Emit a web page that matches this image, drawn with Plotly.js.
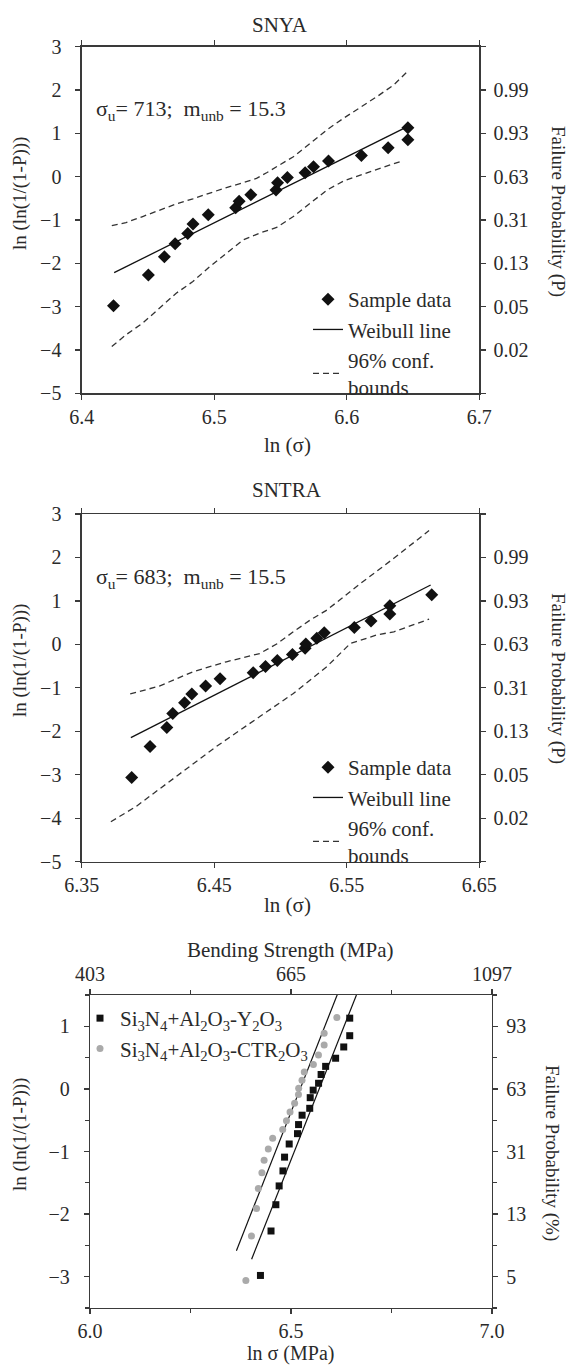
<!DOCTYPE html>
<html>
<head>
<meta charset="utf-8">
<script src="https://cdn.plot.ly/plotly-3.0.1.min.js"></script>
<style>html,body{margin:0;padding:0;background:#fff;}#chart{width:570px;height:1367px;}</style>
</head>
<body>
<div id="chart"></div>
<script>
// ---------- DATA ----------
// SNYA sample data (ln sigma, ln(ln(1/(1-P))))
const snyaX = [6.424, 6.4503, 6.4624, 6.4705, 6.480, 6.484, 6.4955, 6.5162, 6.5188, 6.5276, 6.5466, 6.5478, 6.5552, 6.5686, 6.5749, 6.5862, 6.611, 6.6312, 6.6461, 6.6461];
const snyaY = [-2.98, -2.27, -1.85, -1.55, -1.31, -1.09, -0.88, -0.715, -0.57, -0.42, -0.31, -0.14, -0.02, 0.09, 0.23, 0.36, 0.49, 0.67, 0.85, 1.13];
const snyaLineX = [6.4245, 6.6431];
const snyaLineY = [-2.215, 1.115];
const snyaUpX = [6.4227, 6.4334, 6.446, 6.4586, 6.4713, 6.4839, 6.4965, 6.5092, 6.5218, 6.5319, 6.5395, 6.5471, 6.5597, 6.5724, 6.585, 6.5976, 6.6103, 6.6229, 6.6355, 6.6456];
const snyaUpY = [-1.13, -1.06, -0.92, -0.77, -0.63, -0.51, -0.38, -0.25, -0.14, -0.04, 0.09, 0.23, 0.46, 0.77, 1.08, 1.35, 1.60, 1.85, 2.12, 2.42];
const snyaLoX = [6.4227, 6.4334, 6.446, 6.4586, 6.4713, 6.4839, 6.4965, 6.5092, 6.5218, 6.5345, 6.5471, 6.5597, 6.5724, 6.585, 6.5976, 6.6103, 6.6229, 6.6406];
const snyaLoY = [-3.92, -3.65, -3.38, -3.04, -2.69, -2.42, -2.08, -1.77, -1.46, -1.30, -1.17, -0.92, -0.62, -0.31, -0.10, 0.04, 0.17, 0.35];

// SNTRA sample data
const sntraX = [6.3877, 6.4016, 6.4142, 6.4187, 6.4276, 6.4331, 6.4435, 6.4544, 6.4794, 6.4887, 6.4976, 6.509, 6.5186, 6.5191, 6.5274, 6.533, 6.5557, 6.5683, 6.5825, 6.5825, 6.6141];
const sntraY = [-3.06, -2.35, -1.91, -1.59, -1.34, -1.14, -0.96, -0.79, -0.65, -0.51, -0.37, -0.23, -0.09, 0.01, 0.14, 0.27, 0.39, 0.54, 0.70, 0.89, 1.14];
const sntraLineX = [6.3871, 6.6133];
const sntraLineY = [-2.146, 1.367];
const sntraUpX = [6.3866, 6.4086, 6.4339, 6.4592, 6.4844, 6.4971, 6.5097, 6.5224, 6.535, 6.5603, 6.5855, 6.6121];
const sntraUpY = [-1.14, -0.96, -0.63, -0.40, -0.21, 0.01, 0.29, 0.56, 0.79, 1.40, 1.98, 2.62];
const sntraLoX = [6.372, 6.391, 6.4213, 6.4516, 6.4844, 6.5097, 6.535, 6.5527, 6.5729, 6.5855, 6.6121];
const sntraLoY = [-4.08, -3.73, -3.04, -2.35, -1.66, -1.13, -0.51, 0.02, 0.22, 0.29, 0.58];

// Comparison panel fit lines
const fitYX = [6.402, 6.6628];   // Si3N4+Al2O3-Y2O3
const fitYY = [-2.72, 1.5];
const fitCX = [6.3642, 6.616];   // Si3N4+Al2O3-CTR2O3
const fitCY = [-2.585, 1.52];

// Tick labels
const lnVals12 = [3, 2, 1, 0, -1, -2, -3, -4, -5];
const probVals12 = [2, 1, 0, -1, -2, -3, -4];
const probTicks12 = ['0.99', '0.93', '0.63', '0.31', '0.13', '0.05', '0.02'];
const lnVals3 = [1, 0, -1, -2, -3];
const probTicks3 = ['93', '63', '31', '13', '5'];
const xVals3 = [6.0, 6.5, 7.0];
const xTicks3 = ['6.0', '6.5', '7.0'];
const mpaTicks3 = ['403', '665', '1097'];

// ---------- LAYOUT HELPERS ----------
const W = 570, H = 1367;
const FONT = 'Liberation Serif';
const TXT = '#2a2a2a';
const AX = '#3a3a3a';
const px = v => v / W;
const py = v => 1 - v / H;

function axisBase(extra) {
  return Object.assign({
    showline: true, linecolor: AX, linewidth: 1.3,
    ticks: 'outside', ticklen: 5, tickwidth: 1.2, tickcolor: AX,
    showgrid: false, zeroline: false, fixedrange: true,
    tickfont: {family: FONT, size: 20, color: TXT}
  }, extra);
}
const minorY12 = {tickvals: [3, -5], ticks: 'outside', ticklen: 5, tickwidth: 1.2, tickcolor: AX, showgrid: false};
const minorY3 = {dtick: 0.5, tick0: 0, ticks: 'outside', ticklen: 4, tickwidth: 1.1, tickcolor: AX, showgrid: false};
const minorX3 = {dtick: 0.25, tick0: 6, ticks: 'outside', ticklen: 4, tickwidth: 1.1, tickcolor: AX, showgrid: false};

const dom1x = [px(81.7), px(479.3)];
const dom3x = [px(90), px(492)];
const dom1y = [py(393.3), py(46.7)];
const dom2y = [py(861.7), py(514)];
const dom3y = [py(1308), py(995)];

const lineStyle = {color: '#111', width: 1.3};
const dashStyle = {color: '#333', width: 1.3, dash: '6px,4px'};

const traces = [
  // Panel 1
  {x: snyaX, y: snyaY, mode: 'markers', name: 'Sample data', xaxis: 'x', yaxis: 'y', legend: 'legend',
   marker: {symbol: 'diamond', size: 10, color: '#111'}},
  {x: snyaLineX, y: snyaLineY, mode: 'lines', name: 'Weibull line', xaxis: 'x', yaxis: 'y', legend: 'legend', line: lineStyle},
  {x: snyaUpX, y: snyaUpY, mode: 'lines', name: '96% conf.<br>bounds', xaxis: 'x', yaxis: 'y', legend: 'legend', legendgroup: 'b1', line: dashStyle},
  {x: snyaLoX, y: snyaLoY, mode: 'lines', name: 'lower', xaxis: 'x', yaxis: 'y', legendgroup: 'b1', showlegend: false, line: dashStyle},
  {x: [], y: [], xaxis: 'x2', yaxis: 'y2', showlegend: false, mode: 'markers'},
  // Panel 2
  {x: sntraX, y: sntraY, mode: 'markers', name: 'Sample data', xaxis: 'x3', yaxis: 'y3', legend: 'legend2',
   marker: {symbol: 'diamond', size: 10, color: '#111'}},
  {x: sntraLineX, y: sntraLineY, mode: 'lines', name: 'Weibull line', xaxis: 'x3', yaxis: 'y3', legend: 'legend2', line: lineStyle},
  {x: sntraUpX, y: sntraUpY, mode: 'lines', name: '96% conf.<br>bounds', xaxis: 'x3', yaxis: 'y3', legend: 'legend2', legendgroup: 'b2', line: dashStyle},
  {x: sntraLoX, y: sntraLoY, mode: 'lines', name: 'lower', xaxis: 'x3', yaxis: 'y3', legendgroup: 'b2', showlegend: false, line: dashStyle},
  {x: [], y: [], xaxis: 'x4', yaxis: 'y4', showlegend: false, mode: 'markers'},
  // Panel 3
  {x: fitYX, y: fitYY, mode: 'lines', xaxis: 'x5', yaxis: 'y5', showlegend: false, line: {color: '#111', width: 1.2}},
  {x: fitCX, y: fitCY, mode: 'lines', xaxis: 'x5', yaxis: 'y5', showlegend: false, line: {color: '#111', width: 1.2}},
  {x: snyaX, y: snyaY, mode: 'markers', name: 'Si<sub>3</sub>N<sub>4</sub>+Al<sub>2</sub>O<sub>3</sub>-Y<sub>2</sub>O<sub>3</sub>',
   xaxis: 'x5', yaxis: 'y5', legend: 'legend3', marker: {symbol: 'square', size: 7, color: '#111'}},
  {x: sntraX, y: sntraY, mode: 'markers', name: 'Si<sub>3</sub>N<sub>4</sub>+Al<sub>2</sub>O<sub>3</sub>-CTR<sub>2</sub>O<sub>3</sub>',
   xaxis: 'x5', yaxis: 'y5', legend: 'legend3', marker: {symbol: 'circle', size: 7, color: '#aaaaaa'}},
  {x: [], y: [], xaxis: 'x6', yaxis: 'y6', showlegend: false, mode: 'markers'}
];

const legendBase = {
  bgcolor: 'rgba(0,0,0,0)', borderwidth: 0, xanchor: 'left', yanchor: 'top',
  font: {family: FONT, size: 21, color: TXT}, itemwidth: 30, tracegroupgap: 0
};

function ann(text, x, y, size, angle, extra) {
  return Object.assign({text: text, xref: 'paper', yref: 'paper', x: px(x), y: py(y),
    xanchor: 'center', yanchor: 'middle', showarrow: false, textangle: angle || 0,
    font: {family: FONT, size: size, color: TXT}}, extra || {});
}

const layout = {
  width: W, height: H, margin: {l: 0, r: 0, t: 0, b: 0},
  paper_bgcolor: '#fff', plot_bgcolor: 'rgba(0,0,0,0)',
  font: {family: FONT, size: 20, color: TXT},
  hovermode: false,
  // Panel 1
  xaxis: axisBase({domain: dom1x, range: [6.4, 6.7], anchor: 'y', tickvals: [6.4, 6.5, 6.6, 6.7], ticktext: ['6.4', '6.5', '6.6', '6.7']}),
  xaxis2: axisBase({overlaying: 'x', side: 'top', anchor: 'y', range: [6.4, 6.7], tickvals: [6.4, 6.5, 6.6, 6.7], showticklabels: false}),
  yaxis: axisBase({domain: dom1y, range: [-5, 3], anchor: 'x', tickvals: lnVals12, ticklabelstandoff: 10}),
  yaxis2: axisBase({overlaying: 'y', side: 'right', anchor: 'x', range: [-5, 3], tickvals: probVals12, ticktext: probTicks12, ticklabelstandoff: 4, minor: minorY12}),
  // Panel 2
  xaxis3: axisBase({domain: dom1x, range: [6.35, 6.65], anchor: 'y3', tickvals: [6.35, 6.45, 6.55, 6.65], ticktext: ['6.35', '6.45', '6.55', '6.65']}),
  xaxis4: axisBase({overlaying: 'x3', side: 'top', anchor: 'y3', range: [6.35, 6.65], tickvals: [6.35, 6.45, 6.55, 6.65], showticklabels: false}),
  yaxis3: axisBase({domain: dom2y, range: [-5, 3], anchor: 'x3', tickvals: lnVals12, ticklabelstandoff: 10}),
  yaxis4: axisBase({overlaying: 'y3', side: 'right', anchor: 'x3', range: [-5, 3], tickvals: probVals12, ticktext: probTicks12, ticklabelstandoff: 4, minor: minorY12}),
  // Panel 3
  xaxis5: axisBase({domain: dom3x, range: [6.0, 7.0], anchor: 'y5', tickvals: xVals3, ticktext: xTicks3, minor: minorX3}),
  xaxis6: axisBase({overlaying: 'x5', side: 'top', anchor: 'y5', range: [6.0, 7.0], tickvals: xVals3, ticktext: mpaTicks3, minor: minorX3}),
  yaxis5: axisBase({domain: dom3y, range: [-3.5, 1.5], anchor: 'x5', tickvals: lnVals3, ticklabelstandoff: 10, minor: minorY3}),
  yaxis6: axisBase({overlaying: 'y5', side: 'right', anchor: 'x5', range: [-3.5, 1.5], tickvals: lnVals3, ticktext: probTicks3, ticklabelstandoff: 4, minor: minorY3}),
  legend: Object.assign({}, legendBase, {x: px(308), y: py(279)}),
  legend2: Object.assign({}, legendBase, {x: px(308), y: py(747)}),
  legend3: Object.assign({}, legendBase, {x: px(80), y: py(998), font: {family: FONT, size: 21, color: TXT}}),
  annotations: [
    ann('SNYA', 280, 25, 21),
    ann('ln (ln(1/(1-P)))', 20, 194, 19, -90),
    ann('Failure Probability (P)', 558, 211, 19, 90),
    ann('ln (σ)', 287, 445, 21),
    ann('σ<sub>u</sub>= 713;\u00A0 m<sub>unb</sub> = 15.3', 94, 110, 22, 0, {xanchor: 'left'}),
    ann('SNTRA', 287, 490, 21),
    ann('ln (ln(1/(1-P)))', 20, 661, 19, -90),
    ann('Failure Probability (P)', 558, 678, 19, 90),
    ann('ln (σ)', 287, 905, 21),
    ann('σ<sub>u</sub>= 683;\u00A0 m<sub>unb</sub> = 15.5', 94, 578, 22, 0, {xanchor: 'left'}),
    ann('Bending Strength (MPa)', 290, 950, 21),
    ann('ln (ln(1/(1-P)))', 20, 1135, 19, -90),
    ann('Failure Probability (%)', 552, 1153, 19, 90),
    ann('ln σ (MPa)', 290, 1353, 20)
  ]
};

Plotly.newPlot('chart', traces, layout, {displayModeBar: false, staticPlot: true});
</script>
</body>
</html>
